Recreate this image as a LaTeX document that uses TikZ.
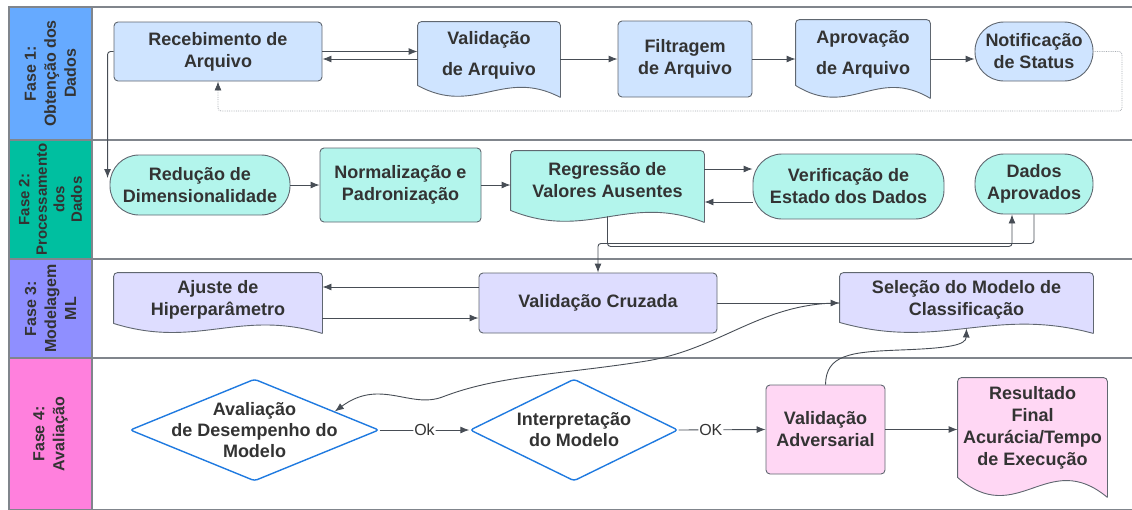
\documentclass[tikz,border=0pt]{standalone}
\usepackage{fontspec}
\setmainfont{Liberation Sans}
\usetikzlibrary{calc,arrows.meta,shapes.geometric,backgrounds}

\definecolor{txtgray}{HTML}{333333}
\definecolor{boxline}{HTML}{606770}
\definecolor{connline}{HTML}{474D55}
\definecolor{laneline}{HTML}{80858C}
\definecolor{dotgray}{HTML}{A8ACB2}
\definecolor{decblue}{HTML}{1F7AE0}
\definecolor{headone}{HTML}{66AAFF}
\definecolor{headtwo}{HTML}{00BFA0}
\definecolor{headthree}{HTML}{8F8FFF}
\definecolor{headfour}{HTML}{FF80DD}
\definecolor{fillone}{HTML}{CFE4FF}
\definecolor{filltwo}{HTML}{B3F5EC}
\definecolor{fillthree}{HTML}{DEDDFF}
\definecolor{fillfour}{HTML}{FFD7F4}

\tikzset{
  every node/.style={text=txtgray},
  box/.style={draw=boxline, line width=0.9pt, align=center,
    font=\fontsize{18}{22}\selectfont\bfseries, inner sep=2pt},
  proc/.style={box, rectangle, rounded corners=4pt},
  term/.style={box, rectangle, rounded corners=29pt},
  docu/.style={box, draw=none, rectangle},
  lowtext/.style={text depth=-3pt},
  docline/.style={draw=boxline, line width=0.9pt, line join=round},
  deci/.style={draw=decblue, line width=1.4pt, diamond, fill=white,
    inner sep=0pt, rounded corners=3pt},
  decitext/.style={align=center, font=\fontsize{18}{21}\selectfont\bfseries},
  head/.style={draw=laneline, line width=1.2pt, rotate=90, align=center,
    font=\fontsize{16}{20}\selectfont\bfseries, inner sep=0pt},
  lane/.style={draw=laneline, line width=1.2pt},
  conn/.style={draw=connline, line width=0.9pt, rounded corners=3pt,
    -{Latex[length=9pt,width=7pt]}},
  dots/.style={draw=dotgray, line width=0.8pt, densely dotted, rounded corners=3pt,
    -{Latex[length=9pt,width=7pt,color=connline]}},
  okl/.style={fill=white, inner sep=1pt, font=\fontsize{16}{18}\selectfont},
}

% wavy bottom of a document node: node, fill, wave height
\newcommand{\docwave}[3]{%
  \begin{scope}[on background layer]
    \draw[docline, fill=#2] ($(#1.south east)+(0,#3)$)
      .. controls ($(#1.south west)!0.6!(#1.south east)+(0,-1.5*#3)$)
      and ($(#1.south west)!0.4!(#1.south east)+(0,2.6*#3)$) .. (#1.south west)
      [rounded corners=4pt] -- (#1.north west) -- (#1.north east)
      -- ($(#1.south east)+(0,#3)$);
  \end{scope}}

\begin{document}
\begin{tikzpicture}[x=1pt,y=-1pt]
  \useasboundingbox (0,0) rectangle (1132,509);

  % lanes
  \draw[lane] (92,7) rectangle (1140,140);
  \draw[lane] (92,140) rectangle (1140,259);
  \draw[lane] (92,259) rectangle (1140,358);
  \draw[lane] (92,358) rectangle (1140,510);

  \node[head, fill=headone, minimum width=133pt, minimum height=83pt] (faseone) at (50.5,73.5) {Fase 1:\\Obtenção dos\\Dados};
  \node[head, fill=headtwo, minimum width=119pt, minimum height=83pt,
    font=\fontsize{15}{17.5}\selectfont\bfseries] (fasetwo) at (50.5,199.5) {Fase 2:\\Processamento\\dos\\Dados};
  \node[head, fill=headthree, minimum width=99pt, minimum height=83pt] (fasethree) at (50.5,308.5) {Fase 3:\\Modelagem\\ML};
  \node[head, fill=headfour, minimum width=152pt, minimum height=83pt] (fasefour) at (50.5,434) {Fase 4:\\Avaliação};

  % fase 1
  \node[proc, fill=fillone, minimum width=208pt, minimum height=59pt] (receb) at (218,51.5) {Recebimento de\\Arquivo};
  \node[docu, lowtext, minimum width=142pt, minimum height=63pt] (valid) at (489,53.5) {Validação\\[9pt]de Arquivo};
  \node[proc, fill=fillone, minimum width=134pt, minimum height=76pt] (filtr) at (685,59) {Filtragem\\de Arquivo};
  \node[docu, lowtext, minimum width=134pt, minimum height=65pt] (aprov) at (863,52.5) {Aprovação\\[9pt]de Arquivo};
  \node[term, fill=fillone, minimum width=118pt, minimum height=59pt] (notif) at (1034,51.5) {Notificação\\de Status};
  \docwave{valid}{fillone}{12}
  \docwave{aprov}{fillone}{13}

  % fase 2
  \node[term, fill=filltwo, minimum width=180pt, minimum height=60pt] (reduc) at (200,185) {Redução de\\Dimensionalidade};
  \node[proc, fill=filltwo, minimum width=161pt, minimum height=74pt] (norm) at (400.5,185) {Normalização e\\Padronização};
  \node[docu, minimum width=193pt, minimum height=59pt] (regr) at (607.5,180.5) {Regressão de\\Valores Ausentes};
  \node[term, fill=filltwo, minimum width=191pt, minimum height=65pt] (verif) at (848.5,186.5) {Verificação de\\Estado dos Dados};
  \node[term, fill=filltwo, minimum width=118pt, minimum height=60pt] (dados) at (1034,184) {Dados\\Aprovados};
  \docwave{regr}{filltwo}{12}

  % fase 3
  \node[docu, lowtext, minimum width=208pt, minimum height=50pt] (ajuste) at (218,298) {Ajuste de\\Hiperparâmetro};
  \node[proc, fill=fillthree, minimum width=238pt, minimum height=60pt] (cruz) at (598,303) {Validação Cruzada};
  \node[docu, lowtext, minimum width=253pt, minimum height=49pt] (selec) at (966.5,297.5) {Seleção do Modelo de\\Classificação};
  \docwave{ajuste}{fillthree}{10}
  \docwave{selec}{fillthree}{11}

  % fase 4
  \node[deci, minimum width=249pt, minimum height=102pt,
    label={[decitext]center:Avaliação\\de Desempenho do\\Modelo}] (aval) at (254.5,430) {};
  \node[deci, minimum width=208pt, minimum height=102pt,
    label={[decitext]center:Interpretação\\do Modelo}] (interp) at (574,430) {};
  \node[proc, fill=fillfour, minimum width=119pt, minimum height=89pt] (advers) at (825.5,429.5) {Validação\\Adversarial};
  \node[docu, minimum width=149pt, minimum height=99pt] (result) at (1032.5,427.5) {Resultado\\Final\\Acurácia/Tempo\\de Execução};
  \docwave{result}{fillfour}{20}

  % connectors
  \draw[conn] (receb.east) -- (receb.east -| valid.west);
  \draw[conn] ([yshift=-5.5pt]valid.west) -- ([yshift=-5.5pt]valid.west -| receb.east);
  \draw[conn] (filtr.west -| valid.east) -- (filtr.west);
  \draw[conn] (filtr.east) -- (filtr.east -| aprov.west);
  \draw[conn] ([yshift=-6.5pt]aprov.east) -- ([yshift=-6.5pt]aprov.east -| notif.west);
  \coordinate (back) at (1122,111);
  \draw[dots] (notif.east) -| (back) -| (receb.south);
  \draw[conn] (receb.west) -| ([xshift=-2pt,yshift=7pt]reduc.west);

  \draw[conn] (reduc.east) -- (reduc.east -| norm.west);
  \draw[conn] (norm.east) -- (norm.east -| regr.west);
  \draw[conn] ([yshift=11.5pt]regr.east) -- ([yshift=11.5pt]regr.east -| verif.west);
  \draw[conn] ([yshift=-15.5pt]verif.west) -- ([yshift=-15.5pt]verif.west -| regr.east);
  \draw[conn] ($(regr.south)+(0,6)$) |- ($(dados.south)+(-22,32)$) -- ($(dados.south)+(-22,0)$);
  \draw[conn] (dados.south) -- ++(0,29) -| (cruz.north);

  \draw[conn] ([yshift=16pt]cruz.west) -- ([yshift=16pt]cruz.west -| ajuste.east);
  \draw[conn] ([yshift=-20pt]ajuste.east) -- ([yshift=-20pt]ajuste.east -| cruz.west);
  \draw[conn] (cruz.east) -- (cruz.east -| selec.west);
  \draw[conn] (cruz.east -| selec.west) .. controls (760,303) and (720,350) .. (640,362)
    .. controls (560,374) and (500,376) .. (445,396)
    .. controls (410,409) and (380,378) .. (aval.13);

  \draw[conn] (aval.east) -- node[okl]{Ok} (interp.west);
  \draw[conn] (interp.east) -- node[okl, pos=0.37]{OK} (advers.west);
  \draw[conn] (advers.east) -- (advers.east -| result.west);
  \draw[conn] (advers.north) .. controls (826,355) and (850,352) .. (900,350)
    .. controls (950,348) and (966,345) .. ($(selec.south)+(0,6)$);
\end{tikzpicture}
\end{document}
